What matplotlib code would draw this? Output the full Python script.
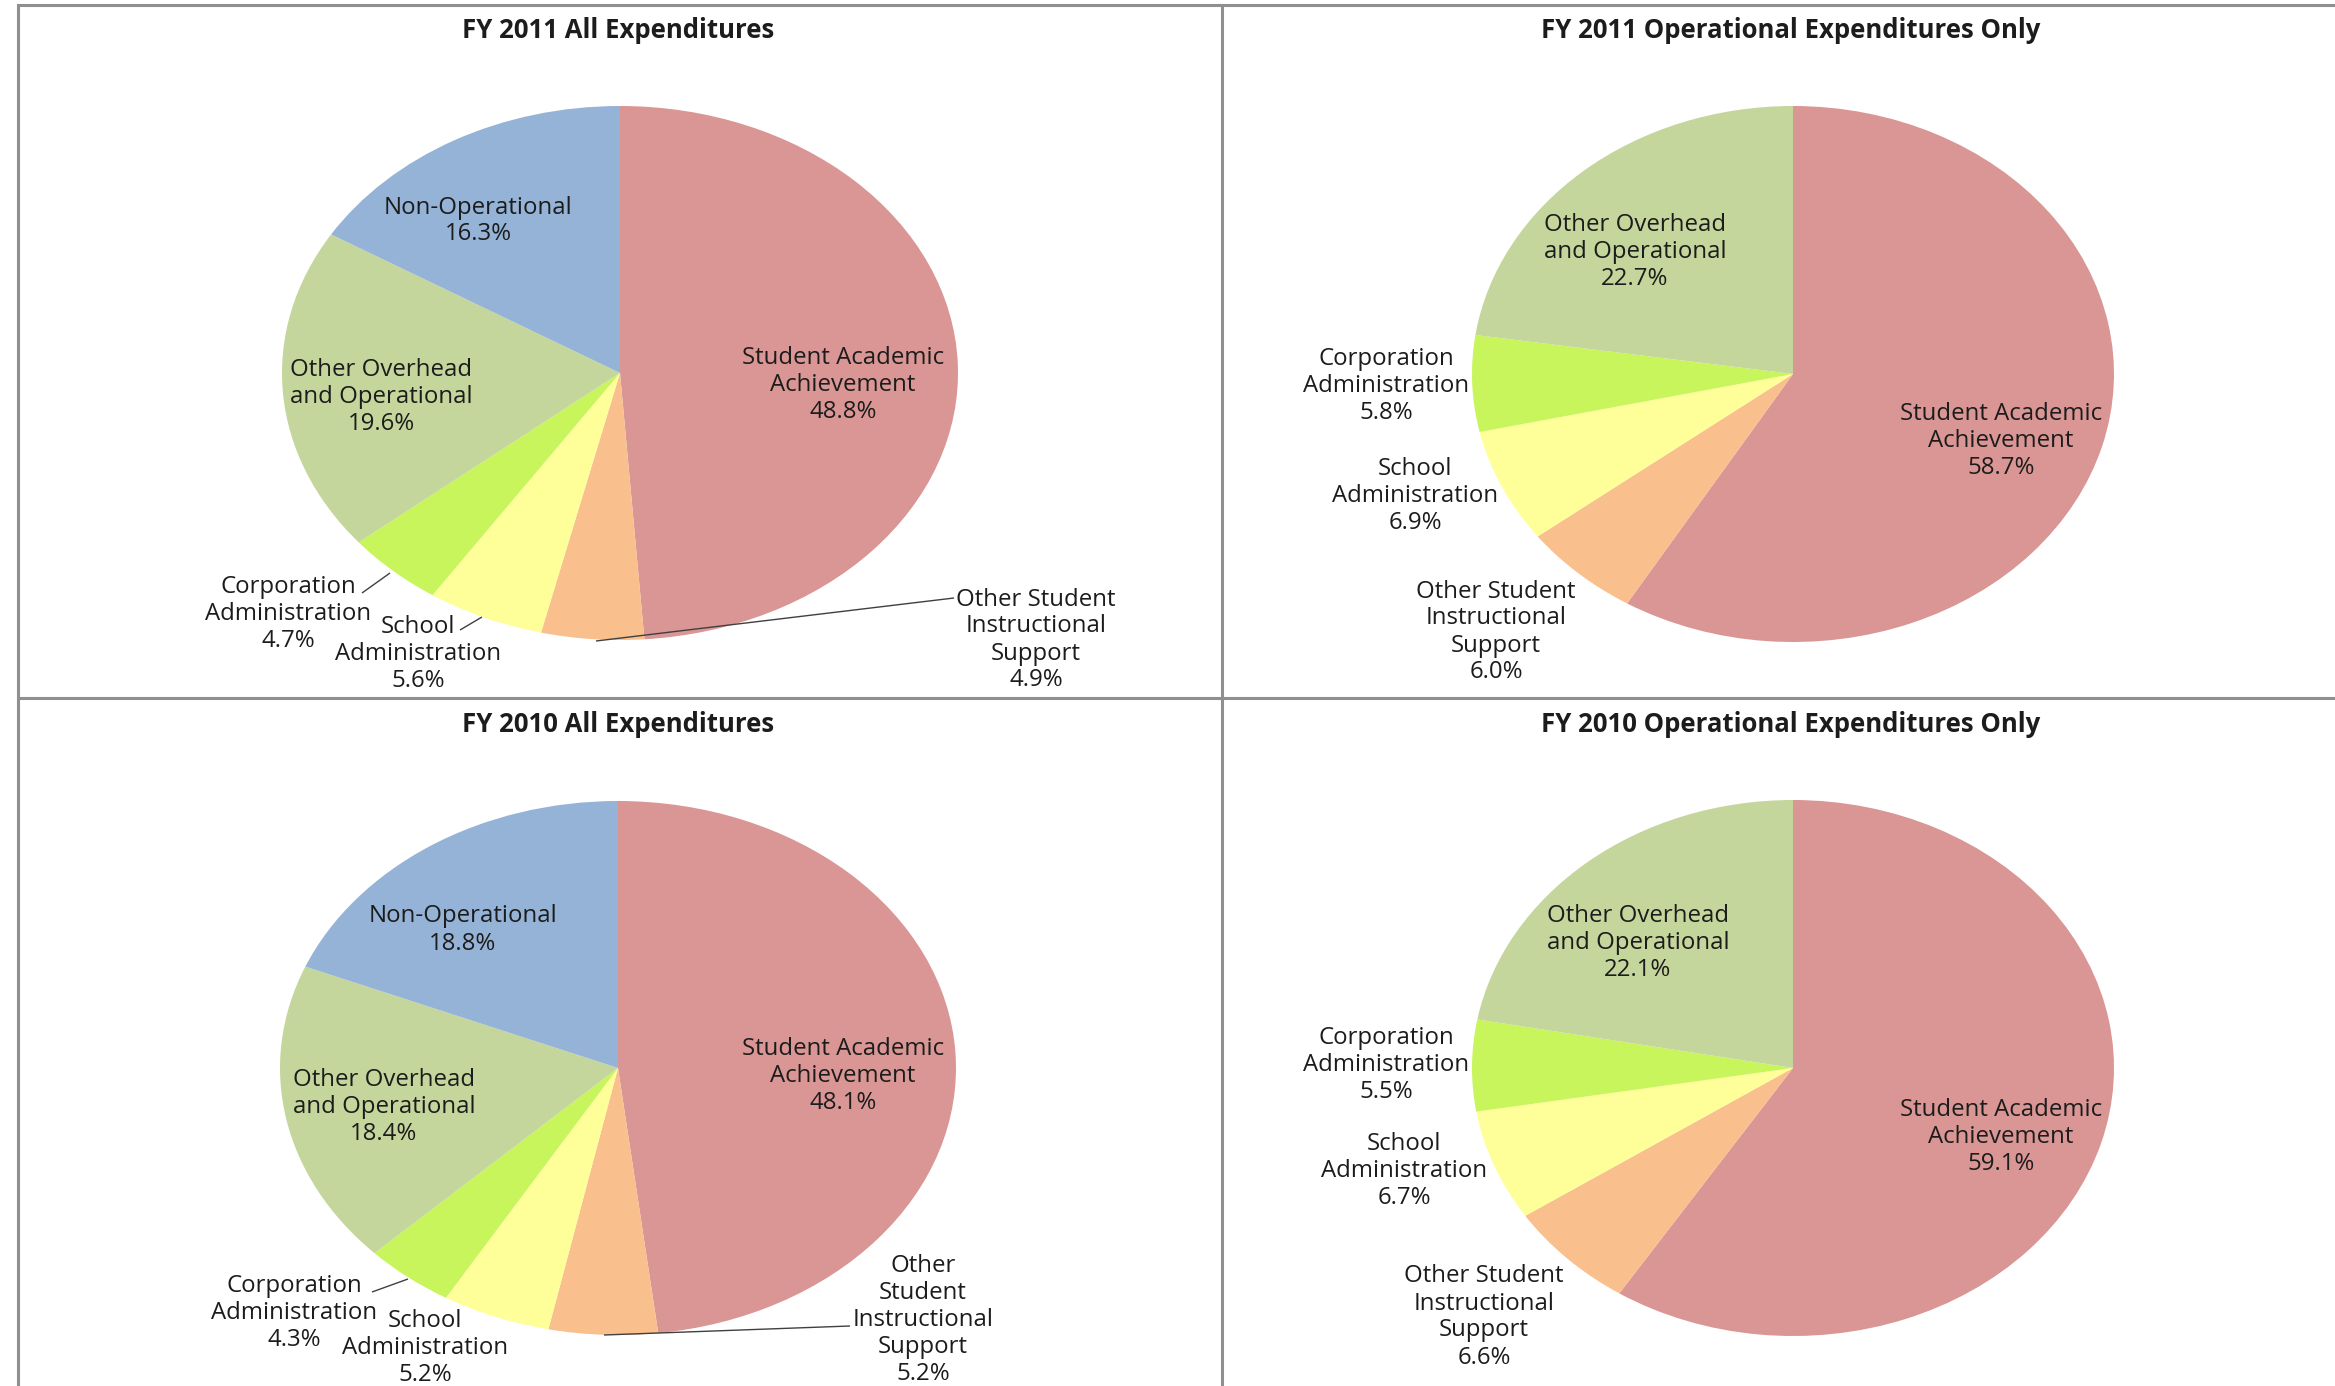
import matplotlib
matplotlib.use("Agg")
import matplotlib.pyplot as plt
from matplotlib.lines import Line2D

# ---------------- data ----------------
categories = ["Student Academic Achievement", "Other Student Instructional Support",
              "School Administration", "Corporation Administration",
              "Other Overhead and Operational", "Non-Operational"]
fy2011_all = [48.8, 4.9, 5.6, 4.7, 19.6, 16.3]
fy2011_ops = [58.7, 6.0, 6.9, 5.8, 22.7]
fy2010_all = [48.1, 5.2, 5.2, 4.3, 18.4, 18.8]
fy2010_ops = [59.1, 6.6, 6.7, 5.5, 22.1]
titles = ["FY 2011 All Expenditures", "FY 2011 Operational Expenditures Only",
          "FY 2010 All Expenditures", "FY 2010 Operational Expenditures Only"]

# label line-wrapping as it appears in each chart
wrap_std = ["Student Academic\nAchievement", "Other Student\nInstructional\nSupport",
            "School\nAdministration", "Corporation\nAdministration",
            "Other Overhead\nand Operational", "Non-Operational"]
wrap_bl = ["Student Academic\nAchievement", "Other\nStudent\nInstructional\nSupport",
           "School\nAdministration", "Corporation\nAdministration",
           "Other Overhead\nand Operational", "Non-Operational"]

colors = ["#D99694", "#F9BF8C", "#FFFF99", "#C8F55C", "#C4D69B", "#95B3D7"]

# ---------------- layout (pixels, top-left origin) ----------------
W, H = 2335, 1386
DPI = 100
LABEL_FS = 17.3
TITLE_FS = 18.5
LINE_STEP = 27      # px between label lines
BASE_OFF = 8        # px from line centre to baseline
TXT = "#1c1c1c"

panels = [
    dict(rect=(18, 5, 1222, 698), c=(620, 373), r=(338, 267), tpos=(618, 30),
         vals=fy2011_all, wraps=wrap_std,
         lpos=[(843, 383), (1036, 638), (418, 652), (288, 612), (381, 395), (478, 219)],
         leaders=[[(954, 598), (596, 641)], [(362, 593), (390, 573)], [(460, 630), (482, 617)]]),
    dict(rect=(1222, 5, 2335, 698), c=(1793, 374), r=(321, 268), tpos=(1791, 30),
         vals=fy2011_ops, wraps=wrap_std,
         lpos=[(2001, 439), (1496, 630), (1415, 494), (1386, 384), (1635, 250)],
         leaders=[]),
    dict(rect=(18, 698, 1222, 1386), c=(618, 1068), r=(338, 267), tpos=(618, 725),
         vals=fy2010_all, wraps=wrap_bl,
         lpos=[(843, 1074), (923, 1318), (425, 1346), (294, 1311), (384, 1105), (463, 928)],
         leaders=[[(850, 1326), (604, 1335)], [(372, 1292), (408, 1279)]]),
    dict(rect=(1222, 698, 2335, 1386), c=(1793, 1068), r=(321, 268), tpos=(1791, 725),
         vals=fy2010_ops, wraps=wrap_std,
         lpos=[(2001, 1135), (1484, 1315), (1404, 1169), (1386, 1063), (1638, 941)],
         leaders=[]),
]

plt.rcParams["font.family"] = ["Open Sans", "DejaVu Sans"]
fig = plt.figure(figsize=(W / DPI, H / DPI), dpi=DPI)
fig.patch.set_facecolor("white")

for p, title in zip(panels, titles):
    x0, y0, x1, y1 = p["rect"]
    cx, cy = p["c"]
    rx, ry = p["r"]
    ax = fig.add_axes([x0 / W, 1 - y1 / H, (x1 - x0) / W, (y1 - y0) / H])
    vals = p["vals"]
    ax.pie(vals, colors=colors[:len(vals)], startangle=90, counterclock=False,
           wedgeprops=dict(linewidth=0))
    ax.set_aspect("auto")
    ax.set_xlim((x0 - cx) / rx, (x1 - cx) / rx)
    ax.set_ylim((cy - y1) / ry, (cy - y0) / ry)
    ax.axis("off")

    def d(pt):
        return ((pt[0] - cx) / rx, (cy - pt[1]) / ry)

    tx, ty = d(p["tpos"])
    ax.text(tx, ty, title, ha="center", va="center", fontsize=TITLE_FS,
            fontweight="bold", color=TXT)
    for v, wtxt, pos in zip(vals, p["wraps"], p["lpos"]):
        lines = f"{wtxt}\n{v:.1f}%".split("\n")
        n = len(lines)
        for i, ln in enumerate(lines):
            ypx = pos[1] + (i - (n - 1) / 2) * LINE_STEP + BASE_OFF
            lx, ly = d((pos[0], ypx))
            ax.text(lx, ly, ln, ha="center", va="baseline",
                    fontsize=LABEL_FS, color=TXT, clip_on=False)
    for seg in p["leaders"]:
        a, b = d(seg[0]), d(seg[1])
        ax.plot([a[0], b[0]], [a[1], b[1]], color="#404040", lw=1.0,
                solid_capstyle="butt", clip_on=False)

# panel borders
bc = "#8f8f8f"
blw = 2.2
def hline(y, xa, xb):
    fig.add_artist(Line2D([xa / W, xb / W], [1 - y / H, 1 - y / H], color=bc, lw=blw))
def vline(x, ya, yb):
    fig.add_artist(Line2D([x / W, x / W], [1 - ya / H, 1 - yb / H], color=bc, lw=blw))

hline(5, 18, W)
hline(698, 18, W)
vline(18, 5, H)
vline(1222, 5, H)

fig.savefig("out.png", dpi=DPI, facecolor="white")
